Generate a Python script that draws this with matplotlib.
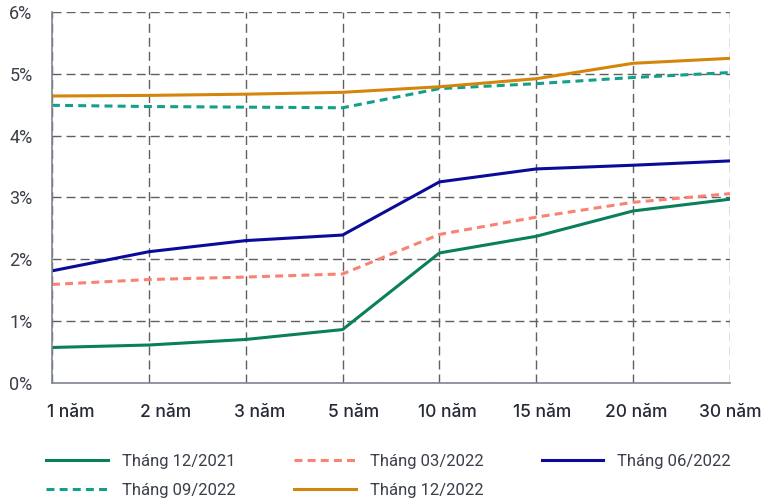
import matplotlib
matplotlib.use("Agg")
import matplotlib.pyplot as plt
from matplotlib.ticker import FuncFormatter, FixedLocator, NullFormatter

categories = ["1 năm", "2 năm", "3 năm", "5 năm", "10 năm", "15 năm", "20 năm", "30 năm"]
s_12_2021 = [0.57, 0.61, 0.70, 0.86, 2.10, 2.37, 2.78, 2.97]
s_03_2022 = [1.59, 1.67, 1.71, 1.76, 2.40, 2.68, 2.92, 3.06]
s_06_2022 = [1.81, 2.12, 2.30, 2.39, 3.25, 3.46, 3.52, 3.59]
s_09_2022 = [4.49, 4.47, 4.46, 4.45, 4.76, 4.84, 4.94, 5.02]
s_12_2022 = [4.64, 4.65, 4.67, 4.70, 4.79, 4.92, 5.17, 5.25]
labels = ["Tháng 12/2021", "Tháng 03/2022", "Tháng 06/2022", "Tháng 09/2022", "Tháng 12/2022"]

fig = plt.figure(figsize=(7.61, 5.0), dpi=100)
ax = fig.add_axes([0.0683, 0.2346, 0.891, 0.7414])

x = list(range(len(categories)))
lw = 2.2
dash = (0, (2.6, 1.7))
l1, = ax.plot(x, s_12_2021, color="#0a7f5b", lw=lw, label=labels[0])
l2, = ax.plot(x, s_03_2022, color="#fa8272", lw=lw, ls=dash, label=labels[1])
l3, = ax.plot(x, s_06_2022, color="#0b0b99", lw=lw, label=labels[2])
l4, = ax.plot(x, s_09_2022, color="#12a08b", lw=lw, ls=dash, label=labels[3])
l5, = ax.plot(x, s_12_2022, color="#d4860b", lw=lw, label=labels[4])

ax.set_xlim(0, 7)
ax.set_ylim(0, 6)
# major ticks carry the grid, minor ticks carry the (slightly shifted) labels
n = len(categories)
ax.xaxis.remove_overlapping_locs = False
ax.xaxis.set_major_locator(FixedLocator(x))
ax.xaxis.set_major_formatter(NullFormatter())
label_pos = [i + 0.196 * (1 - i / (n - 1)) for i in x]
ax.xaxis.set_minor_locator(FixedLocator(label_pos))
ax.set_xticklabels(categories, minor=True, fontsize=12.5, color="#262a36",
                   fontfamily="Inter", fontweight="medium")
ax.set_yticks([0, 1, 2, 3, 4, 5, 6])
ax.yaxis.set_major_formatter(FuncFormatter(lambda v, p: f"{int(v)}%"))
for t in ax.get_yticklabels():
    t.set_fontsize(13)
    t.set_color("#3a3f4a")
    t.set_fontfamily("Roboto")
ax.tick_params(axis='both', which='both', length=0)
ax.tick_params(axis='x', which='minor', pad=15)
ax.tick_params(axis='y', pad=14)

ax.grid(True, which='major', color="#606060", ls=(0, (6.5, 3.6)), lw=1.0)
ax.set_axisbelow(True)
for side in ["top", "right"]:
    ax.spines[side].set_visible(False)
for side in ["left", "bottom"]:
    ax.spines[side].set_color("#808590")
    ax.spines[side].set_linewidth(1.2)

handles = [l1, l4, l2, l5, l3]
labs = [labels[0], labels[3], labels[1], labels[4], labels[2]]
leg = fig.legend(handles, labs, ncol=3, loc="upper left", bbox_to_anchor=(0.061, 0.092),
                 frameon=False, handlelength=3.7, handletextpad=0.85, columnspacing=3.48,
                 labelspacing=0.85, borderaxespad=0, borderpad=0,
                 prop={'family': 'Roboto', 'size': 12})
for t in leg.get_texts():
    t.set_color("#3a3f4c")

fig.savefig("out.png", dpi=100)
